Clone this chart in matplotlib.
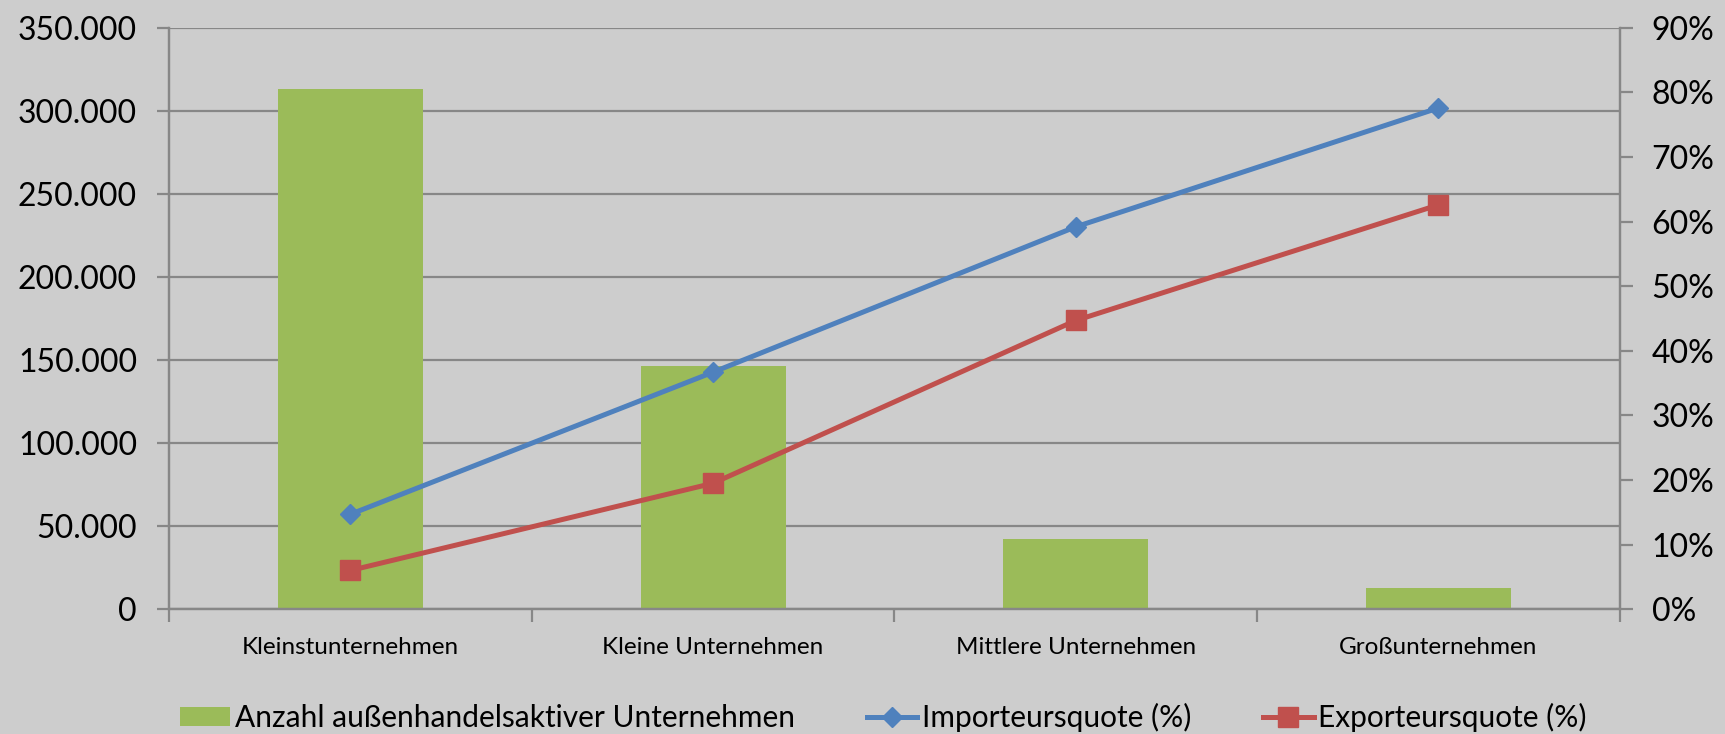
import numpy as np
import matplotlib.pyplot as plt
from matplotlib.ticker import FuncFormatter

kategorien = ['Kleinstunternehmen', 'Kleine Unternehmen', 'Mittlere Unternehmen', 'Großunternehmen']
anzahl = [313000, 146300, 42300, 12800]
import_quote = [14.7, 36.7, 59.2, 77.6]
export_quote = [6.0, 19.5, 44.7, 62.6]

plt.rcParams['font.family'] = ['Lato', 'DejaVu Sans']

bg = '#cdcdcd'
grau = '#878787'

fig = plt.figure(figsize=(17.25, 7.34), dpi=100, facecolor=bg)
ax = fig.add_axes([0.098, 0.170, 0.841, 0.792])
ax.set_facecolor(bg)
x = np.arange(len(kategorien))

bars = ax.bar(x, anzahl, width=0.4, color='#9bbb59', zorder=2,
              label='Anzahl außenhandelsaktiver Unternehmen')
ax.set_xlim(-0.5, 3.5)
ax.set_ylim(0, 350000)
ax.set_yticks(np.arange(0, 350001, 50000))
ax.yaxis.set_major_formatter(FuncFormatter(lambda v, p: f'{int(v):,}'.replace(',', '.')))
ax.grid(axis='y', color=grau, linewidth=1.6, zorder=0)
ax.set_axisbelow(True)
ax.set_xticks(x)
ax.set_xticklabels(kategorien, fontsize=17.5)
ax.set_xticks(np.arange(-0.5, 3.6, 1), minor=True)
ax.tick_params(axis='x', which='major', length=0, pad=20)
ax.tick_params(axis='x', which='minor', length=9, width=1.6, color=grau)
ax.tick_params(axis='y', length=9, width=1.6, color=grau, labelsize=23, pad=14)

ax2 = ax.twinx()
l1, = ax2.plot(x, import_quote, color='#4f81bd', lw=3.6, marker='D', ms=10.5,
               label='Importeursquote (%)', zorder=3)
l2, = ax2.plot(x, export_quote, color='#c0504d', lw=3.6, marker='s', ms=14,
               label='Exporteursquote (%)', zorder=3)
ax2.set_ylim(0, 90)
ax2.set_yticks(np.arange(0, 91, 10))
ax2.yaxis.set_major_formatter(FuncFormatter(lambda v, p: f'{int(v)}%'))
ax2.tick_params(axis='y', length=9, width=1.6, color=grau, labelsize=23, pad=14)

for a in (ax, ax2):
    a.spines['top'].set_visible(False)
    for s in ('left', 'right', 'bottom'):
        a.spines[s].set_color(grau)
        a.spines[s].set_linewidth(1.6)

fig.legend([bars, l1, l2], [bars.get_label(), l1.get_label(), l2.get_label()],
           loc='center', bbox_to_anchor=(0.512, 0.022), ncol=3, frameon=False,
           fontsize=21.5, handlelength=1.7, handletextpad=0.15, columnspacing=2.4,
           handleheight=0.6)

fig.savefig('out.png', dpi=100, facecolor=bg)
